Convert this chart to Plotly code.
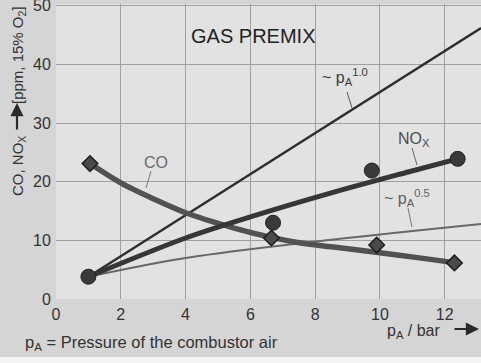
import plotly.graph_objects as go

# ---- data ----
nox_p = [1.0, 6.7, 9.75, 12.4]
nox_v = [3.8, 13.0, 21.9, 23.9]

co_p = [1.05, 6.65, 9.9, 12.3]
co_v = [23.1, 10.4, 9.2, 6.15]

nox_fit_p = [1.0, 4.0, 6.0, 8.5, 10.9, 12.4]
nox_fit_v = [3.8, 10.4, 14.0, 18.1, 21.7, 23.9]

co_fit_p = [1.05, 2.0, 3.0, 4.0, 5.5, 6.65, 7.5, 8.5, 10.0, 11.1, 12.3]
co_fit_v = [23.1, 19.8, 17.1, 14.7, 12.1, 10.5, 9.6, 8.9, 7.9, 7.1, 6.2]

p10_p = [1.0, 13.12]
p10_v = [3.8, 46.2]

p05_p = [1.0, 4.0, 8.5, 13.12]
p05_v = [3.8, 7.0, 10.1, 12.8]

x_ticks = [0, 2, 4, 6, 8, 10, 12]
y_ticks = [0, 10, 20, 30, 40, 50]

# ---- layout geometry ----
W, H = 481, 363
ML, MR, MT, MB = 56, 0, 4, 64
PW, PH = W - ML - MR, H - MT - MB
FONT = "Liberation Sans, Arial, sans-serif"


def X(px):
    return (px - ML) / PW


def Y(py):
    return (MT + PH - py) / PH


fig = go.Figure()

fig.add_trace(go.Scatter(x=p05_p, y=p05_v, mode="lines", line=dict(color="#686868", width=2, shape="spline"),
                         showlegend=False, hoverinfo="skip"))
fig.add_trace(go.Scatter(x=p10_p, y=p10_v, mode="lines", line=dict(color="#2e2e2e", width=2.4),
                         showlegend=False, hoverinfo="skip"))
fig.add_trace(go.Scatter(x=co_fit_p, y=co_fit_v, mode="lines",
                         line=dict(color="#525252", width=5.5, shape="spline", smoothing=0.9),
                         showlegend=False, hoverinfo="skip"))
fig.add_trace(go.Scatter(x=nox_fit_p, y=nox_fit_v, mode="lines",
                         line=dict(color="#363636", width=5, shape="spline", smoothing=0.9),
                         showlegend=False, hoverinfo="skip"))
fig.add_trace(go.Scatter(x=co_p, y=co_v, mode="markers",
                         marker=dict(symbol="diamond", size=12, color="#4a4a4a", line=dict(color="#1e1e1e", width=1.5)),
                         showlegend=False))
fig.add_trace(go.Scatter(x=nox_p, y=nox_v, mode="markers",
                         marker=dict(symbol="circle", size=15, color="#3a3a3a", line=dict(color="#222222", width=1)),
                         showlegend=False))

ann = []


def txt(text, px, py, size, color, xanchor="left", yanchor="middle", angle=0):
    ann.append(dict(text=text, x=X(px), y=Y(py), xref="paper", yref="paper", showarrow=False,
                    xanchor=xanchor, yanchor=yanchor, textangle=angle,
                    font=dict(family=FONT, size=size, color=color)))


txt("GAS PREMIX", 253, 36, 20, "#222222", xanchor="center")
txt("~ p<sub>A</sub><sup>1.0</sup>", 320, 77, 16, "#3a3a3a")
txt("NO<sub>X</sub>", 396, 139, 16, "#4e4e4e")
txt("CO", 142, 163, 16, "#6a6a6a")
txt("~ p<sub>A</sub><sup>0.5</sup>", 382, 198, 16, "#5e5e5e")

# axis titles
txt("CO, NO<sub>X</sub>", 18, 198, 15, "#333333", xanchor="center", yanchor="bottom", angle=-90)
txt("[ppm, 15% O<sub>2</sub>]", 18, 4, 15, "#333333", xanchor="center", yanchor="top", angle=-90)
txt("p<sub>A</sub> / bar", 443, 331, 16, "#333333", xanchor="right")
txt("p<sub>A</sub> = Pressure of the combustor air", 23, 343, 16.5, "#333333")

# arrows
ann.append(dict(text="", x=X(17), y=Y(103), xref="paper", yref="paper", showarrow=True,
                ax=0, ay=28, arrowhead=2, arrowsize=1.2, arrowwidth=2.2, arrowcolor="#2a2a2a"))
ann.append(dict(text="", x=X(479), y=Y(329), xref="paper", yref="paper", showarrow=True,
                ax=-26, ay=0, arrowhead=2, arrowsize=1.2, arrowwidth=2.2, arrowcolor="#2a2a2a"))

# leader lines for labels
shapes = []


def leader(x0, y0, x1, y1, color):
    shapes.append(dict(type="line", xref="paper", yref="paper", x0=X(x0), y0=Y(y0), x1=X(x1), y1=Y(y1),
                       line=dict(color=color, width=1)))


leader(347, 92, 352, 108, "#555555")
leader(412, 148, 417, 165, "#666666")
leader(151, 171, 146, 188, "#777777")
leader(408, 208, 412, 227, "#777777")

# white strip at bottom of scan
shapes.append(dict(type="rect", xref="paper", yref="paper", x0=X(0), x1=X(W), y0=Y(H), y1=Y(357),
                   fillcolor="#f4f4f4", line=dict(width=0), layer="below"))

fig.update_layout(
    width=W, height=H,
    margin=dict(l=ML, r=MR, t=MT, b=MB, pad=0, autoexpand=False),
    paper_bgcolor="#d5d5d5", plot_bgcolor="#e2e2e2",
    font=dict(family=FONT, size=16, color="#333333"),
    annotations=ann, shapes=shapes,
    xaxis=dict(range=[0, 13.12], tickvals=x_ticks, ticktext=[str(v) for v in x_ticks],
               showgrid=True, gridcolor="#a0a0a0", gridwidth=1, zeroline=False, showline=False,
               ticks="", ticklabelstandoff=4, fixedrange=True,
               automargin=False, ticklabeloverflow="allow"),
    yaxis=dict(range=[0, 50.3], tickvals=y_ticks, ticktext=[str(v) for v in y_ticks],
               showgrid=True, gridcolor="#a0a0a0", gridwidth=1, zeroline=False, showline=False,
               ticks="outside", ticklen=1, tickcolor="rgba(0,0,0,0)", fixedrange=True,
               automargin=False, ticklabeloverflow="allow"),
)

fig.write_html("out.html", config={"displayModeBar": False},
               post_script="document.body.style.margin='0';document.body.style.padding='0';")
